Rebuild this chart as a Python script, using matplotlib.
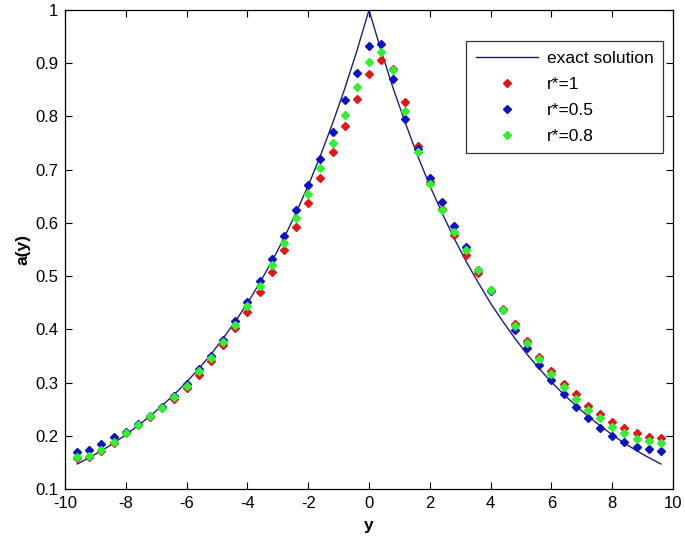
import numpy as np
import matplotlib
matplotlib.use('Agg')
import matplotlib.pyplot as plt

# sample points (y) and values
Y = [-9.6, -9.2, -8.8, -8.4, -8.0, -7.6, -7.2, -6.8, -6.4, -6.0, -5.6, -5.2, -4.8,
     -4.4, -4.0, -3.6, -3.2, -2.8, -2.4, -2.0, -1.6, -1.2, -0.8, -0.4, 0.0,
     0.4, 0.8, 1.2, 1.6, 2.0, 2.4, 2.8, 3.2, 3.6, 4.0, 4.4, 4.8, 5.2, 5.6,
     6.0, 6.4, 6.8, 7.2, 7.6, 8.0, 8.4, 8.8, 9.2, 9.6]

EXACT = [0.147, 0.159, 0.172, 0.186, 0.202, 0.219, 0.237, 0.257, 0.278, 0.301, 0.326, 0.353, 0.383,
         0.415, 0.449, 0.487, 0.527, 0.571, 0.619, 0.670, 0.726, 0.787, 0.852, 0.923, 1.000,
         0.923, 0.852, 0.787, 0.726, 0.670, 0.619, 0.571, 0.527, 0.487, 0.449, 0.415, 0.383, 0.353, 0.326,
         0.301, 0.278, 0.257, 0.237, 0.219, 0.202, 0.186, 0.172, 0.159, 0.147]

TAU_1 = [0.159, 0.161, 0.172, 0.187, 0.205, 0.220, 0.236, 0.252, 0.270, 0.290, 0.314, 0.340, 0.371,
         0.402, 0.433, 0.471, 0.507, 0.550, 0.592, 0.638, 0.684, 0.734, 0.782, 0.832, 0.879,
         0.907, 0.889, 0.827, 0.745, 0.676, 0.627, 0.578, 0.540, 0.505, 0.474, 0.438, 0.410, 0.378, 0.348,
         0.322, 0.298, 0.278, 0.256, 0.241, 0.225, 0.214, 0.205, 0.198, 0.196]

TAU_05 = [0.170, 0.174, 0.184, 0.197, 0.207, 0.222, 0.238, 0.254, 0.274, 0.297, 0.325, 0.350, 0.380,
          0.416, 0.451, 0.490, 0.533, 0.575, 0.624, 0.671, 0.720, 0.771, 0.830, 0.882, 0.932,
          0.936, 0.870, 0.795, 0.738, 0.684, 0.640, 0.595, 0.554, 0.511, 0.472, 0.436, 0.399, 0.364, 0.333,
          0.305, 0.278, 0.255, 0.234, 0.215, 0.200, 0.189, 0.178, 0.175, 0.172]

TAU_08 = [0.161, 0.162, 0.174, 0.189, 0.206, 0.221, 0.237, 0.253, 0.273, 0.294, 0.322, 0.347, 0.377,
          0.408, 0.443, 0.481, 0.521, 0.563, 0.609, 0.654, 0.703, 0.751, 0.802, 0.855, 0.902,
          0.922, 0.887, 0.811, 0.734, 0.674, 0.624, 0.582, 0.549, 0.511, 0.474, 0.437, 0.406, 0.375, 0.345,
          0.316, 0.292, 0.270, 0.248, 0.233, 0.217, 0.206, 0.194, 0.191, 0.187]

plt.rcParams['font.family'] = ['Liberation Sans', 'DejaVu Sans']
plt.rcParams['axes.unicode_minus'] = False

fig = plt.figure(figsize=(6.85, 5.42), dpi=100)
ax = fig.add_axes([0.0949, 0.0978, 0.8876, 0.8837])

ax.plot(Y, EXACT, color='#1c1c80', lw=1.0, label='exact solution')
ax.plot(Y, TAU_1, 'D', color='#e01818', ms=3.8, mec='#e01818', ls='none', label='r*=1')
ax.plot(Y, TAU_05, 'D', color='#0a14c0', ms=3.8, mec='#0a14c0', ls='none', label='r*=0.5')
ax.plot(Y, TAU_08, 'D', color='#30f030', ms=3.8, mec='#30f030', ls='none', label='r*=0.8')

ax.set_xlim(-10, 10)
ax.set_ylim(0.1, 1)
ax.set_xticks(np.arange(-10, 11, 2))
ax.set_yticks(np.arange(0.1, 1.01, 0.1))
ax.set_yticklabels(['0.1', '0.2', '0.3', '0.4', '0.5', '0.6', '0.7', '0.8', '0.9', '1'])
ax.tick_params(direction='in', top=True, right=True, labelsize=12, length=5, width=0.8, pad=5)
for s in ax.spines.values():
	s.set_linewidth(0.9)

ax.set_xlabel('y', fontsize=12.5, fontweight='bold', labelpad=5)
ax.set_ylabel('a(y)', fontsize=12.5, fontweight='bold', labelpad=3)

leg = ax.legend(loc='upper right', bbox_to_anchor=(0.984, 0.935), fontsize=12.5,
                frameon=True, fancybox=False, edgecolor='black', borderpad=0.55,
                handlelength=3.6, handletextpad=0.5, labelspacing=0.62, borderaxespad=0)
leg.get_frame().set_linewidth(0.9)

fig.savefig('out.png', dpi=100)
plt.close(fig)
